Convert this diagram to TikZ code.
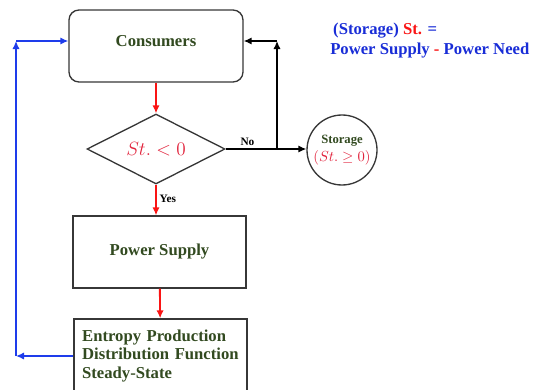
\documentclass[tikz,border=0pt]{standalone}
\usepackage{fontspec}
\setmainfont{Liberation Serif}
\usepackage{amsmath}
\usetikzlibrary{shapes.geometric,arrows.meta}

\definecolor{txtgreen}{RGB}{50,74,32}
\definecolor{lineblue}{RGB}{30,60,235}
\definecolor{txtblue}{RGB}{25,45,215}
\definecolor{linered}{RGB}{250,20,20}
\definecolor{mathred}{RGB}{225,35,60}
\definecolor{edgegray}{RGB}{55,55,55}

\begin{document}
\begin{tikzpicture}[
  x=0.75pt, y=-0.75pt,
  font=\fontsize{12.5}{14}\selectfont\bfseries,
  box/.style={draw=edgegray, line width=1pt, fill=white, align=center, text=txtgreen, minimum width=129.75pt, minimum height=54pt, inner sep=0pt},
  decide/.style={draw=edgegray, line width=1pt, diamond, aspect=2, inner sep=0pt, minimum width=103.5pt, minimum height=52.5pt},
  store/.style={draw=edgegray, line width=1pt, circle, align=center, text=txtgreen, minimum size=52.5pt, inner sep=0pt},
  arr/.style={-{Latex[length=6pt,width=5.5pt]}, line width=1.4pt},
  lbl/.style={font=\fontsize{8.5}{10}\selectfont\bfseries, text=black, inner sep=2pt},
]
\useasboundingbox (0,0) rectangle (534,389);
\clip (0,0) rectangle (534,389);

% --- Nodes ---
\node[box, rounded corners=7.5pt, minimum width=130.5pt, text height=9pt, text depth=9pt] (cons) at (156,46) {Consumers};
\node[decide] (dec) at (156,149) {\textcolor{mathred}{\fontsize{13.5}{14}\selectfont$St.<0$}};
\node[store] (stor) at (342,150) {\fontsize{9.5}{11}\selectfont Storage\\[-1pt]\textcolor{mathred}{\fontsize{11}{12}\selectfont$(St.\geq 0)$}};
\node[box] (ps) at (159.5,252) {Power Supply};
\node[box, minimum height=55.5pt, align=left, text width=117.5pt, inner xsep=6pt] (ent) at (160.5,356) {Entropy Production\\Distribution Function\\Steady-State};

% --- Definition ---
\node[anchor=north west, inner sep=0pt, align=left, text=txtblue, font=\fontsize{12.5}{15}\selectfont\bfseries] (eqn) at (330,23) {\hspace{2.2pt}(Storage) \textcolor{linered}{St.} =\\Power Supply \textcolor{linered}{-} Power Need};

% --- Corners ---
\coordinate (bl) at (16,356);
\coordinate (tl) at (16,41);
\coordinate (jn) at (277,149);
\coordinate (tr) at (277,41);

% --- Edges ---
\draw[arr, linered] (cons.south -| dec.north) -- (dec.north);
\draw[arr, linered] (dec.south) -- node[lbl, right, pos=0.45] {Yes} (dec.south |- ps.north);
\draw[arr, linered] (ps) -- (ent);
\draw[arr] (dec.east) -- node[lbl, above, pos=0.27] {No} (dec.east -| stor.west);
\draw[arr] (jn) -- (tr);
\draw[arr] (tr) -- (tr -| cons.east);
\draw[arr, lineblue] (ent.west) -- (bl);
\draw[arr, lineblue] (bl) -- (tl);
\draw[arr, lineblue] (tl) -- (tl -| cons.west);
\end{tikzpicture}
\end{document}
